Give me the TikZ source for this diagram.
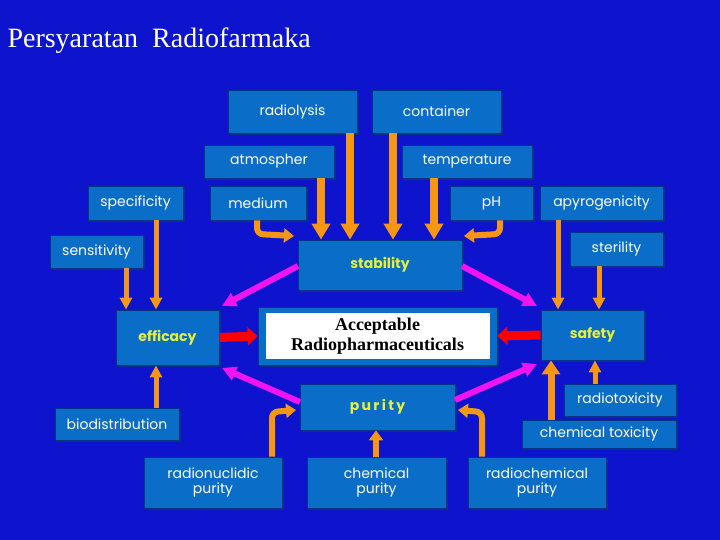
\documentclass[tikz,border=0pt]{standalone}
\usepackage{fontspec}
\setmainfont{Liberation Serif}
\newfontfamily\boxfont{Poppins}
\usetikzlibrary{arrows.meta,shadows}
\definecolor{bg}{RGB}{14,20,205}
\definecolor{boxb}{RGB}{10,110,200}
\definecolor{boxd}{RGB}{8,50,130}
\definecolor{orng}{RGB}{245,150,20}
\definecolor{ylw}{RGB}{230,240,60}
\definecolor{mag}{RGB}{240,20,240}
\tikzset{
  bx/.style={fill=boxb,draw=boxd,line width=0.8pt,drop shadow={shadow xshift=2pt,shadow yshift=-2pt,fill=boxd,opacity=1},
    text=white,font=\boxfont\fontsize{14}{15}\selectfont,inner sep=0pt,align=center},
  key/.style={text=ylw,font=\boxfont\bfseries\fontsize{14}{15}\selectfont},
  oa/.style={draw=orng,line width=8pt,-{Triangle[width=18pt,length=16pt]}},
  ob/.style={draw=orng,line width=6pt,-{Triangle[width=14pt,length=10pt]},rounded corners=6pt},
  ra/.style={draw=red,line width=9pt,-{Triangle[width=18pt,length=10pt]}},
  ma/.style={draw=mag,line width=6pt,-{Triangle[width=14pt,length=14pt]}},
}
\newcommand{\bxn}[7][]{\node[bx,#1,minimum width=#4-#2,minimum height=#5-#3] (#6) at ({(#2+#4)/2},{-(#3+#5)/2}) {#7};}
\begin{document}
\begin{tikzpicture}[x=1pt,y=1pt]
\fill[bg] (0,0) rectangle (720,-540);
\useasboundingbox (0,0) rectangle (720,-540);
\node[anchor=west,text=white,font=\fontsize{28}{30}\selectfont] (title) at (4,-41) {Persyaratan\ \ Radiofarmaka};
\bxn{228}{90}{357}{133}{rad}{radiolysis}
\bxn{372}{90}{501}{133}{con}{container}
\bxn{204}{145}{334}{178}{atm}{atmospher}
\bxn{402}{145}{532}{178}{tem}{temperature}
\bxn{210}{186}{306}{220}{med}{medium}
\bxn{450}{186}{533}{220}{ph}{pH}
\bxn{88}{186}{183}{220}{spe}{specificity}
\bxn{50}{235}{143}{268}{sen}{sensitivity}
\bxn{540}{186}{663}{220}{apy}{apyrogenicity}
\bxn{570}{232}{663}{266}{ste}{sterility}
\bxn[key]{298}{240}{462}{290}{stab}{stability}
\bxn[key]{116}{310}{219}{365}{eff}{efficacy}
\bxn[key]{541}{310}{644}{360}{saf}{safety}
\bxn[key]{300}{384}{455}{430}{pur}{p\,u\,r\,i\,t\,y}
\bxn{55}{408}{179}{440}{bio}{biodistribution}
\bxn{144}{457}{282}{508}{rnp}{radionuclidic\\purity}
\bxn{307}{457}{446}{508}{chp}{chemical\\purity}
\bxn{468}{457}{606}{508}{rcp}{radiochemical\\purity}
\bxn{564}{384}{676}{416}{rtx}{radiotoxicity}
\bxn{522}{420}{676}{448}{ctx}{chemical toxicity}
\node[bx,minimum width=239,minimum height=58] (acc) at (377.5,-336) {};
\node[fill=white,minimum width=224,minimum height=46,inner sep=0pt,align=center,
  font=\bfseries\fontsize{18}{20}\selectfont] (acct) at (acc) {Acceptable\\Radiopharmaceuticals};
% orange arrows to stability
\draw[oa] (rad.south -| 350,0) -- (stab.north -| 350,0);
\draw[oa] (con.south -| 393,0) -- (stab.north -| 393,0);
\draw[oa] (atm.south -| 321,0) -- (stab.north -| 321,0);
\draw[oa] (tem.south -| 434,0) -- (stab.north -| 434,0);
\draw[ob] (med.south -| 257,0) -- (257,-234) -- (294,-236);
\draw[ob] (ph.south -| 500,0) -- (500,-234) -- (464,-236);
% to efficacy / safety
\draw[oa,line width=5pt,-{Triangle[width=12pt,length=12pt]}] (spe.south -| 156,0) -- (eff.north -| 156,0);
\draw[oa,line width=5pt,-{Triangle[width=12pt,length=12pt]}] (sen.south -| 126,0) -- (eff.north -| 126,0);
\draw[oa,line width=5pt,-{Triangle[width=12pt,length=12pt]}] (apy.south -| 558,0) -- (saf.north -| 558,0);
\draw[oa,line width=5pt,-{Triangle[width=12pt,length=12pt]}] (ste.south -| 599,0) -- (saf.north -| 599,0);
\draw[oa,line width=5pt,-{Triangle[width=12pt,length=12pt]}] (bio.north -| 156,0) -- (eff.south -| 156,0);
\draw[oa,line width=5pt,-{Triangle[width=12pt,length=12pt]}] (rtx.north -| 595,0) -- (saf.south -| 595,0);
\draw[oa,line width=7pt,-{Triangle[width=18pt,length=14pt]}] (ctx.north -| 551,0) -- (saf.south -| 551,0);
\draw[oa,line width=6pt,-{Triangle[width=14pt,length=10pt]}] (chp.north -| 376,0) -- (pur.south -| 376,0);
\draw[ob] (rnp.north -| 272,0) -- (272,-412) -- (296,-410);
\draw[ob] (rcp.north -| 482,0) -- (482,-412) -- (458,-410);
% red
\draw[ra] (eff.east) -- (acc.west);
\draw[ra] (saf.west) -- (acc.east);
% magenta
\draw[ma] (298,-266) -- (222,-306);
\draw[ma] (462,-266) -- (537,-306);
\draw[ma] (300,-402) -- (222,-368);
\draw[ma] (455,-400) -- (537,-364);
\end{tikzpicture}
\end{document}
